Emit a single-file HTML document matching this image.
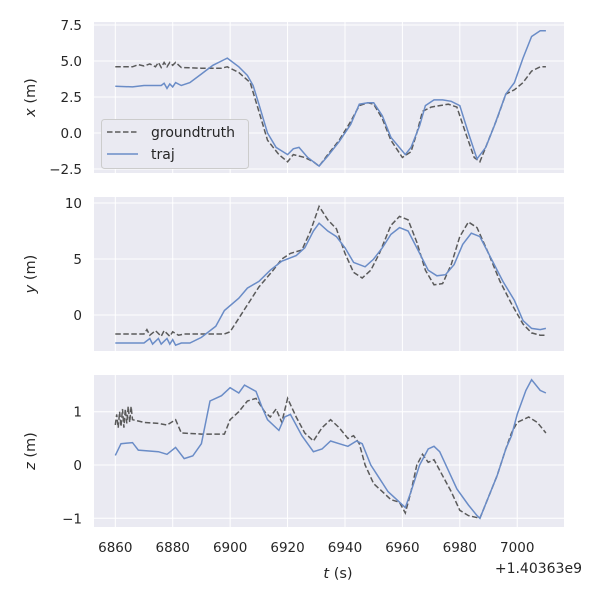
<!DOCTYPE html>
<html><head><meta charset="utf-8"><style>
body{margin:0;background:#fff}
svg text{font-family:"DejaVu Sans","Liberation Sans",sans-serif;fill:#262626}
</style></head><body>
<svg id="s" width="600" height="600" xmlns="http://www.w3.org/2000/svg"></svg>
<script>
const S=document.getElementById('s');let h='';
const L=94,R=564;
const X=t=>115.3+(t-6860)*2.871;
const axes=[
 {top:22,bot:173,f:v=>133-14.4*v,ticks:[[7.5,'7.5'],[5,'5.0'],[2.5,'2.5'],[0,'0.0'],[-2.5,'\u22122.5']],lab:'x',
  gt:[[6860,4.6],[6866,4.6],[6868,4.75],[6870,4.65],[6872,4.8],[6874,4.6],[6875,4.9],[6876,4.55],[6877,4.9],[6878,4.6],[6879,4.9],[6880,4.7],[6881,4.9],[6883,4.55],[6890,4.5],[6897,4.5],[6899,4.6],[6903,4.2],[6907,3.5],[6910,1.5],[6913,-0.5],[6917,-1.5],[6920,-2.0],[6922,-1.5],[6926,-1.7],[6929,-2.0],[6931,-2.3],[6934,-1.5],[6938,-0.5],[6942,0.8],[6945,1.9],[6948,2.1],[6950,2.0],[6953,1.0],[6956,-0.5],[6960,-1.7],[6963,-1.3],[6965,0],[6967,1.5],[6970,1.8],[6973,1.9],[6976,2.0],[6979,1.8],[6982,0],[6985,-1.7],[6987,-2.0],[6990,-0.5],[6993,1.0],[6996,2.7],[6999,3.0],[7002,3.5],[7005,4.3],[7008,4.6],[7010,4.6]],
  tr:[[6860,3.25],[6866,3.2],[6870,3.3],[6876,3.3],[6877,3.45],[6878,3.1],[6879,3.4],[6880,3.2],[6881,3.5],[6883,3.3],[6886,3.5],[6890,4.1],[6894,4.7],[6897,5.0],[6899,5.2],[6903,4.6],[6906,4.0],[6908,3.3],[6910,2.0],[6913,0],[6916,-1.0],[6920,-1.5],[6922,-1.1],[6924,-1.0],[6927,-1.7],[6931,-2.3],[6934,-1.6],[6938,-0.6],[6942,0.6],[6945,2.0],[6948,2.1],[6950,2.1],[6953,1.2],[6956,-0.3],[6961,-1.5],[6963,-1.0],[6966,0.5],[6968,1.9],[6971,2.3],[6974,2.3],[6977,2.2],[6980,1.9],[6983,0],[6986,-1.8],[6989,-1.0],[6992,0.5],[6996,2.7],[6999,3.5],[7002,5.2],[7005,6.7],[7008,7.1],[7010,7.1]]},
 {top:197,bot:351,f:v=>315-11.2*v,ticks:[[10,'10'],[5,'5'],[0,'0']],lab:'y',
  gt:[[6860,-1.7],[6870,-1.7],[6871,-1.3],[6872,-1.8],[6874,-1.4],[6876,-1.9],[6877,-1.4],[6879,-1.9],[6880,-1.5],[6882,-1.8],[6884,-1.7],[6898,-1.7],[6900,-1.5],[6905,0.5],[6910,2.5],[6915,4.0],[6918,5.0],[6921,5.5],[6925,5.8],[6928,7.5],[6931,9.7],[6934,8.5],[6937,7.7],[6940,5.5],[6943,3.8],[6946,3.3],[6949,4.0],[6952,5.5],[6956,8.0],[6959,8.8],[6962,8.5],[6965,6.5],[6968,4.0],[6971,2.7],[6974,2.8],[6977,4.5],[6980,7.0],[6983,8.3],[6986,7.8],[6990,5.5],[6994,3.0],[6998,1.0],[7002,-0.8],[7005,-1.6],[7008,-1.8],[7010,-1.8]],
  tr:[[6860,-2.5],[6870,-2.5],[6872,-2.1],[6873,-2.6],[6875,-2.1],[6876,-2.6],[6878,-2.1],[6879,-2.6],[6880,-2.2],[6881,-2.7],[6883,-2.5],[6886,-2.5],[6890,-2.0],[6895,-1.0],[6898,0.4],[6903,1.5],[6906,2.4],[6910,3.0],[6914,4.0],[6918,4.8],[6923,5.3],[6926,6.0],[6929,7.5],[6931,8.2],[6934,7.5],[6937,7.0],[6940,6.0],[6943,4.7],[6947,4.3],[6950,5.0],[6953,6.0],[6956,7.2],[6959,7.8],[6962,7.5],[6965,6.0],[6969,4.0],[6972,3.5],[6975,3.6],[6978,4.5],[6981,6.3],[6984,7.3],[6987,7.0],[6991,5.0],[6995,3.0],[6999,1.3],[7002,-0.5],[7005,-1.2],[7008,-1.3],[7010,-1.2]]},
 {top:375,bot:527,f:v=>465-53.3*v,ticks:[[1,'1'],[0,'0'],[-1,'\u22121']],lab:'z',
  gt:[[6860,0.75],[6860.5,0.95],[6861,0.7],[6861.5,1.0],[6862,0.72],[6862.5,1.05],[6863,0.7],[6863.5,1.05],[6864,0.78],[6864.5,1.1],[6865,0.8],[6865.5,1.1],[6866,0.85],[6870,0.8],[6875,0.78],[6878,0.75],[6881,0.85],[6883,0.6],[6890,0.58],[6898,0.58],[6900,0.85],[6903,1.0],[6906,1.2],[6909,1.25],[6912,1.0],[6914,0.9],[6916,1.05],[6918,0.8],[6920,1.25],[6923,0.9],[6926,0.6],[6929,0.45],[6932,0.7],[6935,0.85],[6938,0.7],[6941,0.5],[6943,0.55],[6945,0.4],[6947,0],[6950,-0.35],[6953,-0.5],[6956,-0.65],[6959,-0.7],[6961,-0.9],[6963,-0.5],[6965,0],[6967,0.2],[6969,0.05],[6971,0.1],[6974,-0.2],[6977,-0.5],[6980,-0.85],[6983,-0.95],[6987,-1.0],[6990,-0.6],[6993,-0.2],[6996,0.3],[6998,0.6],[7000,0.8],[7004,0.9],[7007,0.8],[7010,0.6]],
  tr:[[6860,0.18],[6862,0.4],[6866,0.42],[6868,0.28],[6875,0.25],[6878,0.2],[6881,0.33],[6884,0.12],[6887,0.17],[6890,0.4],[6893,1.2],[6897,1.3],[6900,1.45],[6903,1.35],[6905,1.5],[6909,1.38],[6911,1.1],[6913,0.85],[6917,0.65],[6919,0.9],[6921,0.95],[6925,0.55],[6929,0.25],[6932,0.3],[6935,0.45],[6938,0.4],[6941,0.35],[6944,0.45],[6946,0.4],[6949,0],[6952,-0.25],[6955,-0.5],[6958,-0.65],[6961,-0.8],[6963,-0.5],[6966,0],[6969,0.3],[6971,0.35],[6973,0.25],[6976,-0.1],[6979,-0.45],[6983,-0.75],[6986,-0.95],[6987,-1.0],[6990,-0.6],[6993,-0.2],[6996,0.3],[6998,0.55],[7000,0.95],[7003,1.4],[7005,1.6],[7008,1.4],[7010,1.35]]}
];
axes.forEach((a,i)=>{
 h+=`<rect x="${L}" y="${a.top}" width="${R-L}" height="${a.bot-a.top}" fill="#eaeaf2"/>`;
 for(let t=6860;t<=7000;t+=20)h+=`<line x1="${X(t)}" x2="${X(t)}" y1="${a.top}" y2="${a.bot}" stroke="#fff" stroke-width="1"/>`;
 a.ticks.forEach(([v,s])=>{const y=a.f(v);h+=`<line x1="${L}" x2="${R}" y1="${y}" y2="${y}" stroke="#fff"/><text x="82" y="${y+5}" font-size="13.5" text-anchor="end">${s}</text>`;});
 const cy=(a.top+a.bot)/2;
 h+=`<text transform="translate(35,${cy}) rotate(-90)" font-size="14.5" text-anchor="middle"><tspan font-style="italic">${a.lab}</tspan> (m)</text>`;
 const pts=d=>d.map(p=>X(p[0]).toFixed(1)+','+a.f(p[1]).toFixed(1)).join(' ');
 h+=`<polyline points="${pts(a.gt)}" fill="none" stroke="#5a5a5a" stroke-width="1.5" stroke-dasharray="5.5,2.5"/>`;
 h+=`<polyline points="${pts(a.tr)}" fill="none" stroke="#6a8cc7" stroke-width="1.5"/>`;
});
for(let t=6860;t<=7000;t+=20)h+=`<text x="${X(t)}" y="552" font-size="13.5" text-anchor="middle">${t}</text>`;
h+=`<text x="338" y="578" font-size="14.5" text-anchor="middle"><tspan font-style="italic">t</tspan> (s)</text>`;
h+=`<text x="582" y="573" font-size="14" text-anchor="end">+1.40363e9</text>`;
h+=`<rect x="101.5" y="119.5" width="147" height="49" rx="3" fill="#eaeaf2" stroke="#cccccc"/>`;
h+=`<line x1="107" x2="138" y1="132" y2="132" stroke="#5a5a5a" stroke-width="1.5" stroke-dasharray="5.5,2.5"/><text x="151" y="137" font-size="14">groundtruth</text>`;
h+=`<line x1="107" x2="138" y1="154" y2="154" stroke="#6a8cc7" stroke-width="1.5"/><text x="151" y="159" font-size="14">traj</text>`;
S.innerHTML=h;
</script>
</body></html>
